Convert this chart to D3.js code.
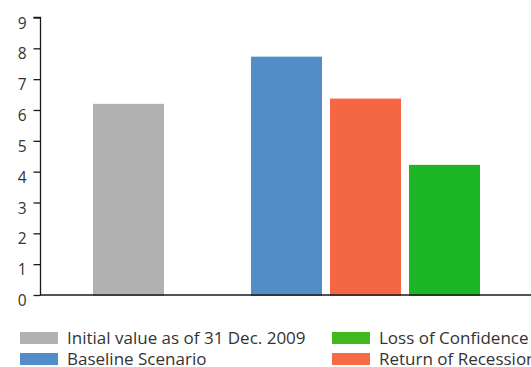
<!DOCTYPE html>
<html>
<head>
<meta charset="utf-8">
<script src="https://cdn.jsdelivr.net/npm/d3@7"></script>
<style>
  html, body { margin: 0; padding: 0; background: #fff; }
  svg { display: block; }
  text { font-family: "Open Sans", "Noto Sans", sans-serif; fill: #333; }
</style>
</head>
<body>
<svg id="chart" width="531" height="367"></svg>
<script>
// Scenario values (bars left to right; an empty slot separates the initial value)
const slots = ["initial", "gap", "baseline", "recession", "confidence"];
const categories = ["initial", "baseline", "recession", "confidence"];
const values = [6.2, 7.73, 6.37, 4.22];
const barColors = ["#b0b1b0", "#528dc8", "#f46644", "#1bb525"];
const yTicks = [0, 1, 2, 3, 4, 5, 6, 7, 8, 9];

// Legend entries (two columns)
const legendLabels = ["Initial value as of 31 Dec. 2009", "Baseline Scenario", "Loss of Confidence", "Return of Recession"];
const legendColors = ["#b0b1b0", "#528dc8", "#41b81c", "#f66a45"];

const svg = d3.select("#chart");

const y = d3.scaleLinear().domain([0, 9]).range([295, 17.5]);
const x = d3.scaleBand().domain(slots).range([93, 480]).paddingInner(8 / 79).paddingOuter(0);

// Bars
svg.append("g")
  .selectAll("rect")
  .data(categories.map((c, i) => ({ c, v: values[i], color: barColors[i] })))
  .join("rect")
  .attr("x", d => x(d.c))
  .attr("width", x.bandwidth())
  .attr("y", d => y(d.v))
  .attr("height", d => y(0) - y(d.v) + 1)
  .attr("fill", d => d.color);

// Y axis
const yAxis = d3.axisLeft(y).tickValues(yTicks).tickSize(7).tickPadding(8);
const gy = svg.append("g").attr("transform", "translate(40.5,0)").call(yAxis);
gy.select(".domain").attr("stroke", "#1a1a1a").attr("stroke-width", 1.3)
  .attr("d", `M-7,${y(9)}H0V${y(0)}`);
gy.selectAll(".tick line").attr("stroke", "#1a1a1a").attr("stroke-width", 1.3);
gy.selectAll(".tick text")
  .attr("x", -14)
  .attr("dy", null)
  .attr("y", 10.5)
  .attr("text-anchor", "end")
  .style("font-family", "'Open Sans', 'Noto Sans', sans-serif")
  .style("font-size", "15.5px")
  .attr("fill", "#333");
gy.attr("font-size", null).attr("font-family", null);

// Baseline across the plot
svg.append("line")
  .attr("x1", 40).attr("x2", 531)
  .attr("y1", y(0)).attr("y2", y(0))
  .attr("stroke", "#1a1a1a").attr("stroke-width", 1.6);

// Legend
const legendPos = [
  { x: 20, y: 332 }, { x: 20, y: 353 },
  { x: 332, y: 332 }, { x: 332, y: 353 }
];
const lg = svg.append("g");
legendLabels.forEach((label, i) => {
  const p = legendPos[i];
  lg.append("rect")
    .attr("x", p.x).attr("y", p.y)
    .attr("width", 38).attr("height", 12)
    .attr("fill", legendColors[i]);
  lg.append("text")
    .attr("x", p.x + 47).attr("y", p.y + 12.3)
    .style("font-size", "17px")
    .text(label);
});
</script>
</body>
</html>
